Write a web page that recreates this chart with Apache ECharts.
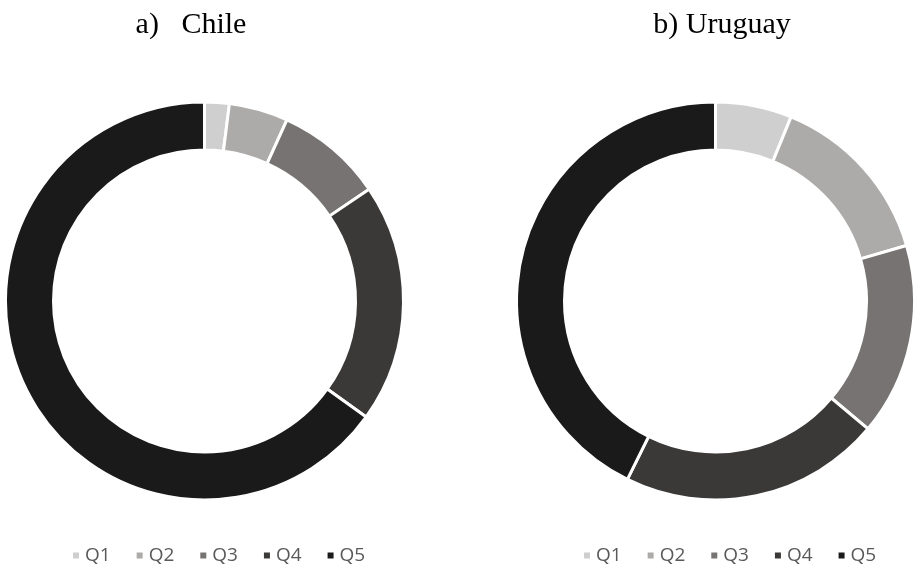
<!DOCTYPE html>
<html>
<head>
<meta charset="utf-8">
<script src="https://cdn.jsdelivr.net/npm/echarts@6/dist/echarts.min.js"></script>
<style>
  html, body { margin: 0; padding: 0; background: #ffffff; }
  #chart { width: 915px; height: 571px; }
</style>
</head>
<body>
<div id="chart"></div>
<script>
// Income quintile shares (%) by country
const quintiles = ['Q1', 'Q2', 'Q3', 'Q4', 'Q5'];
const chileShares = [2.0, 4.8, 8.7, 19.4, 65.1];
const uruguayShares = [6.2, 14.3, 15.6, 21.2, 42.7];
const panelTitles = ['a)   Chile', 'b) Uruguay'];
const quintileColors = ['#d0cfcf', '#adabaa', '#767372', '#3b3938', '#1b1a1a'];

const toData = vals => quintiles.map((q, i) => ({ name: q, value: vals[i] }));

const ring = (center, vals) => ({
  type: 'pie',
  center: center,
  radius: [151, 199],
  startAngle: 90,
  clockwise: true,
  avoidLabelOverlap: false,
  label: { show: false },
  labelLine: { show: false },
  emphasis: { disabled: true },
  itemStyle: { borderColor: '#ffffff', borderWidth: 3 },
  data: toData(vals)
});

const legendBase = {
  orient: 'horizontal',
  icon: 'rect',
  itemWidth: 8,
  itemHeight: 8,
  itemGap: 24,
  top: 541,
  selectedMode: false,
  textStyle: { fontFamily: 'Open Sans', fontSize: 19, color: '#595959' },
  data: quintiles
};

const titleStyle = { fontFamily: 'Liberation Serif', fontSize: 30, fontWeight: 'normal', color: '#000' };

const chart = echarts.init(document.getElementById('chart'));
chart.setOption({
  animation: false,
  color: quintileColors,
  title: [
    { text: panelTitles[0], left: 186, top: 5, textAlign: 'center', textStyle: titleStyle },
    { text: panelTitles[1], left: 717, top: 5, textAlign: 'center', textStyle: titleStyle }
  ],
  legend: [
    Object.assign({}, legendBase, { left: 66 }),
    Object.assign({}, legendBase, { left: 577 })
  ],
  series: [
    ring([204.5, 301], chileShares),
    ring([715.5, 301], uruguayShares)
  ]
});
</script>
</body>
</html>
